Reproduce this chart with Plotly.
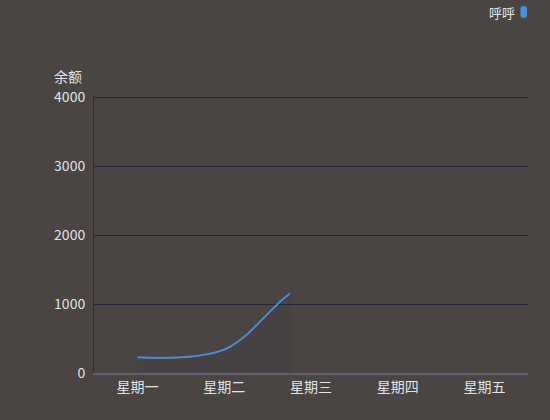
import plotly.graph_objects as go

# 数据
days = ["星期一", "星期二", "星期三", "星期四", "星期五"]
balance = [228, 340, 1270, 400]
series_name = "呼呼"
y_ticks = [0, 1000, 2000, 3000, 4000]

# 折线入场动画进行到的位置（按类目序号计）
reveal = 1.76

BG = "#4a4542"
LINE = "#4a8fe0"
TEXT = "#dfe4ec"
FONT = "Noto Sans CJK SC, PingFang SC, sans-serif"

x_range = [-0.5, len(days) - 0.5]
reveal_frac = (reveal - x_range[0]) / (x_range[1] - x_range[0])

fig = go.Figure()
# 折线画在一个只显示到 reveal 为止的隐藏 x 轴上，比例与主轴一致
fig.add_trace(go.Scatter(
    x=days[:len(balance)],
    y=balance,
    xaxis="x2",
    yaxis="y",
    mode="lines",
    name=series_name,
    line=dict(color=LINE, width=1.8, shape="spline", smoothing=1.0),
    fill="tozeroy",
    fillcolor="rgba(40,45,70,0.12)",
    showlegend=False,
    hoverinfo="x+y",
))
# 主轴占位（让主 x 轴显示类目）
fig.add_trace(go.Scatter(x=days, y=[None] * len(days), mode="lines",
                         showlegend=False, hoverinfo="skip"))

TOP, BOTTOM = 95, 47
ph = 420 - TOP - BOTTOM
y_top = 4000 * ph / (ph - 2)  # 让 4000 的网格线落在绘图区内

fig.update_layout(
    width=550,
    height=420,
    paper_bgcolor=BG,
    plot_bgcolor=BG,
    margin=dict(l=94, r=22, t=TOP, b=BOTTOM),
    font=dict(family=FONT, color=TEXT, size=14),
    xaxis=dict(
        type="category",
        categoryorder="array",
        categoryarray=days,
        range=x_range,
        showgrid=False,
        zeroline=False,
        showline=True,
        linecolor="#5f6270",
        linewidth=2,
        ticks="",
        tickfont=dict(size=14, color=TEXT, family=FONT),
        fixedrange=True,
    ),
    xaxis2=dict(
        type="category",
        categoryorder="array",
        categoryarray=days,
        range=[x_range[0], reveal],
        domain=[0, reveal_frac],
        anchor="y",
        visible=False,
        fixedrange=True,
    ),
    yaxis=dict(
        range=[0, y_top],
        tickvals=y_ticks,
        ticktext=[str(v) for v in y_ticks],
        showgrid=True,
        gridcolor="#1f2637",
        gridwidth=1,
        zeroline=False,
        showline=True,
        linecolor="#2b303e",
        linewidth=1,
        ticks="",
        ticklabelstandoff=5,
        tickfont=dict(size=14, color=TEXT, family=FONT),
        fixedrange=True,
    ),
)

# 像素换算为 paper 坐标
pw = 550 - 94 - 22
def px_x(v):
    return (v - 94) / pw
def px_y(v):
    return (420 - BOTTOM - v) / ph

fig.add_annotation(
    text="余额", xref="paper", yref="paper", x=px_x(52), y=px_y(76),
    xanchor="left", yanchor="middle", showarrow=False,
    font=dict(size=14, color=TEXT, family=FONT),
)

# 图例：文字 + 圆角色块
fig.add_annotation(
    text=series_name, xref="paper", yref="paper", x=px_x(517), y=px_y(12),
    xanchor="right", yanchor="middle", showarrow=False,
    font=dict(size=13, color=TEXT, family=FONT),
)
x0, x1, y0, y1 = px_x(520.5), px_x(527), px_y(6), px_y(18)
r = (x1 - x0) * 0.45
ry = (y0 - y1) * 0.25
path = (
    f"M {x0 + r},{y1} L {x1 - r},{y1} Q {x1},{y1} {x1},{y1 + ry} "
    f"L {x1},{y0 - ry} Q {x1},{y0} {x1 - r},{y0} L {x0 + r},{y0} "
    f"Q {x0},{y0} {x0},{y0 - ry} L {x0},{y1 + ry} Q {x0},{y1} {x0 + r},{y1} Z"
)
fig.add_shape(type="path", path=path, xref="paper", yref="paper",
              fillcolor=LINE, line=dict(width=0))

fig.write_html("out.html", config={"displayModeBar": False})
